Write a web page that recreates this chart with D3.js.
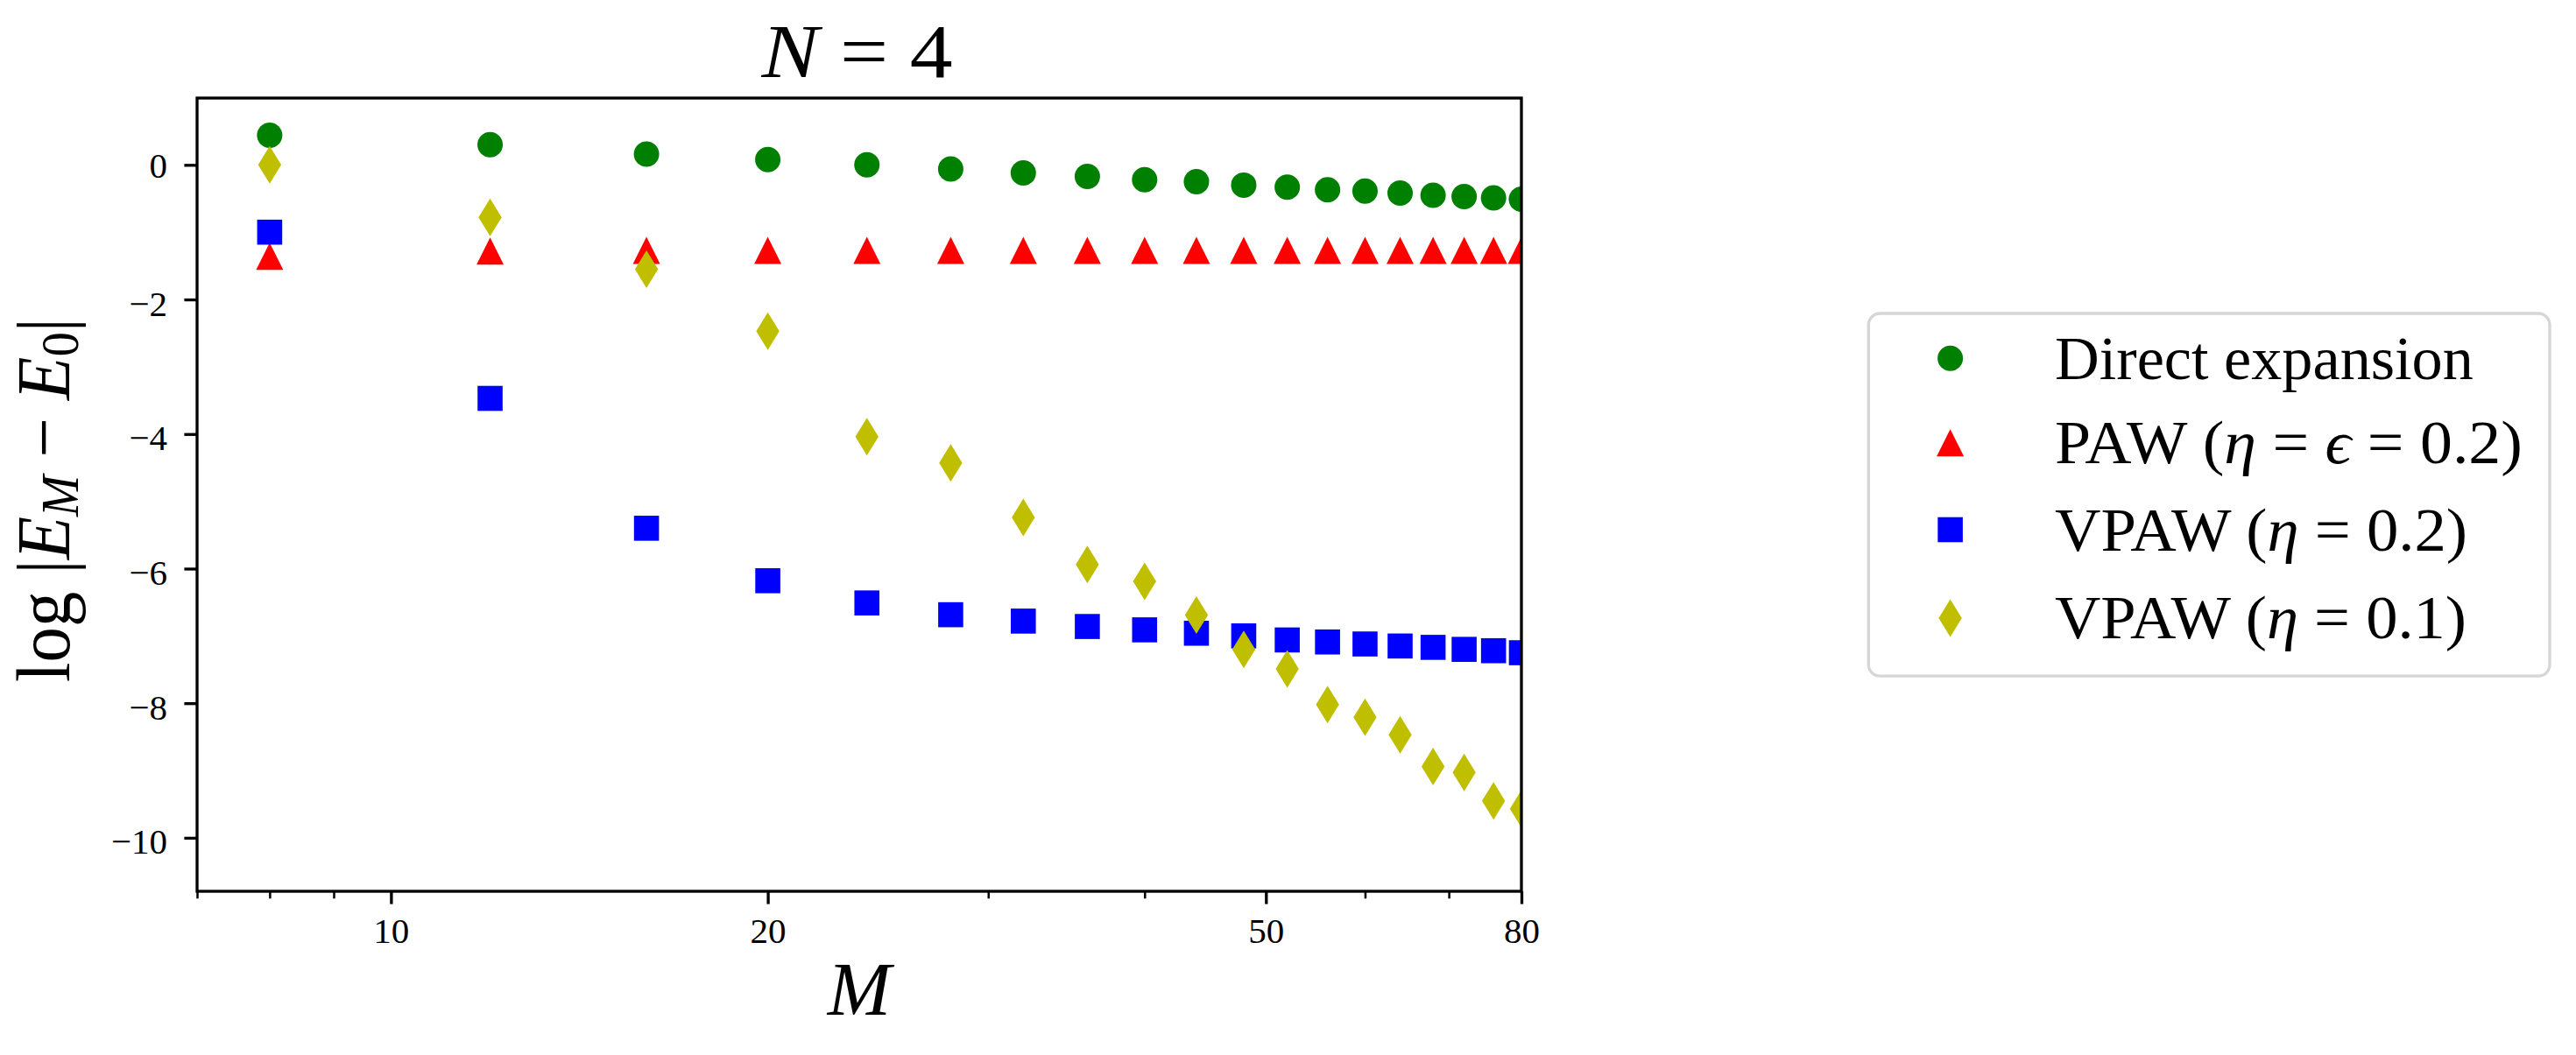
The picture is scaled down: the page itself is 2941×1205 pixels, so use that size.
<!DOCTYPE html>
<html>
<head>
<meta charset="utf-8">
<script src="https://cdn.jsdelivr.net/npm/d3@7"></script>
<style>
  html, body { margin: 0; padding: 0; background: #fff; }
  svg { display: block; }
</style>
</head>
<body>
<svg id="chart" width="2941" height="1205"></svg>
<script>
// ---------------- data ----------------
const M = [8, 12, 16, 20, 24, 28, 32, 36, 40, 44, 48, 52, 56, 60, 64, 68, 72, 76, 80];
const directExpansion = [0.44, 0.30, 0.16, 0.08, 0.00, -0.06, -0.12, -0.17, -0.22, -0.25, -0.30, -0.33, -0.37, -0.39, -0.42, -0.45, -0.47, -0.49, -0.51];
const paw02 = [-1.36, -1.28, -1.27, -1.27, -1.27, -1.27, -1.27, -1.27, -1.27, -1.27, -1.27, -1.27, -1.27, -1.27, -1.27, -1.27, -1.27, -1.27, -1.27];
const vpaw02 = [-1.00, -3.47, -5.40, -6.18, -6.51, -6.685, -6.78, -6.86, -6.91, -6.96, -7.00, -7.06, -7.09, -7.12, -7.15, -7.17, -7.20, -7.22, -7.25];
const vpaw01 = [0.00, -0.78, -1.55, -2.47, -4.04, -4.43, -5.24, -5.94, -6.19, -6.69, -7.20, -7.49, -8.02, -8.21, -8.47, -8.94, -9.03, -9.45, -9.57];
const xTicks = [10, 20, 50, 80];
const xMinorTicks = [7, 8, 9, 30, 40, 60, 70];
const yTicks = [0, -2, -4, -6, -8, -10];
const xDomain = [7, 80];
const yDomain = [-10.795, 0.993];

// ---------------- layout ----------------
const W = 2941, H = 1205;
const plot = { left: 225, right: 1737, top: 112, bottom: 1018 };
const SERIF = "'Liberation Serif','DejaVu Serif',serif";
const LW = 3.33;

const svg = d3.select("#chart");
svg.append("rect").attr("width", W).attr("height", H).attr("fill", "#fff");

const x = d3.scaleLog().domain(xDomain).range([plot.left, plot.right]);
const y = d3.scaleLinear().domain(yDomain).range([plot.bottom, plot.top]);

function markerPath(shape) {
  switch (shape) {
    case "circle": { const r = 14.5; return `M${r},0A${r},${r} 0 1 1 ${-r},0A${r},${r} 0 1 1 ${r},0Z`; }
    case "triangle": { const s = 15.5; return `M0,${-s}L${s},${s}L${-s},${s}Z`; }
    case "square": { const h = 14.3; return `M${-h},${-h}L${h},${-h}L${h},${h}L${-h},${h}Z`; }
    case "diamond": { const w = 13.2, h = 21.5; return `M0,${-h}L${w},0L0,${h}L${-w},0Z`; }
  }
}

const series = [
  { values: directExpansion, color: "#008000", shape: "circle",
    label: [{ t: "Direct expansion" }] },
  { values: paw02, color: "#ff0000", shape: "triangle",
    label: [{ t: "PAW (" }, { t: "η", i: true }, { t: " = " }, { t: "ϵ", i: true }, { t: " = 0.2)" }] },
  { values: vpaw02, color: "#0000ff", shape: "square",
    label: [{ t: "VPAW (" }, { t: "η", i: true }, { t: " = 0.2)" }] },
  { values: vpaw01, color: "#bfbf00", shape: "diamond",
    label: [{ t: "VPAW (" }, { t: "η", i: true }, { t: " = 0.1)" }] }
];

// clip
svg.append("defs").append("clipPath").attr("id", "clip")
  .append("rect").attr("x", plot.left).attr("y", plot.top)
  .attr("width", plot.right - plot.left).attr("height", plot.bottom - plot.top);

const marks = svg.append("g").attr("clip-path", "url(#clip)");
series.forEach(s => {
  marks.append("g").selectAll("path").data(M.map((m, i) => [m, s.values[i]]))
    .join("path")
    .attr("d", markerPath(s.shape))
    .attr("transform", d => `translate(${x(d[0])},${y(d[1])})`)
    .attr("fill", s.color);
});

// axes
const fmt = d => d < 0 ? "\u2212" + Math.abs(d) : String(d);

const xAxisG = svg.append("g").attr("transform", `translate(0,${plot.bottom})`)
  .call(d3.axisBottom(x).tickValues(xTicks).tickSize(14.6).tickFormat(d3.format("d")));
xAxisG.select(".domain").remove();
xAxisG.selectAll(".tick line").attr("stroke", "#000").attr("stroke-width", LW);
xAxisG.selectAll(".tick text").attr("y", 59).attr("dy", 0)
  .attr("font-family", SERIF).attr("font-size", 41).attr("fill", "#000");

const xMinorG = svg.append("g").attr("transform", `translate(0,${plot.bottom})`)
  .call(d3.axisBottom(x).tickValues(xMinorTicks).tickSize(8.3).tickFormat(""));
xMinorG.select(".domain").remove();
xMinorG.selectAll(".tick line").attr("stroke", "#000").attr("stroke-width", 2.5);

const yAxisG = svg.append("g").attr("transform", `translate(${plot.left},0)`)
  .call(d3.axisLeft(y).tickValues(yTicks).tickSize(14.6).tickFormat(fmt));
yAxisG.select(".domain").remove();
yAxisG.selectAll(".tick line").attr("stroke", "#000").attr("stroke-width", LW);
yAxisG.selectAll(".tick text").attr("x", -34).attr("dy", 0)
  .attr("y", d => d < 0 ? 18 : 14.5)
  .attr("font-family", SERIF).attr("font-size", 41).attr("fill", "#000");
svg.selectAll(".tick").attr("font-family", null).attr("font-size", null);
xAxisG.attr("font-family", SERIF); yAxisG.attr("font-family", SERIF);

// frame
svg.append("rect").attr("x", plot.left).attr("y", plot.top)
  .attr("width", plot.right - plot.left).attr("height", plot.bottom - plot.top)
  .attr("fill", "none").attr("stroke", "#000").attr("stroke-width", LW);

// helpers for text
function addRich(parent, segs, size, anchor) {
  const t = parent.append("text").attr("font-family", SERIF).attr("font-size", size)
    .attr("fill", "#000").attr("text-anchor", anchor || "start").attr("x", 0).attr("y", 0);
  segs.forEach(sg => {
    const ts = t.append("tspan").text(sg.t);
    if (sg.i) ts.attr("font-style", "italic");
    if (sg.size) ts.attr("font-size", sg.size);
    if (sg.dy) ts.attr("dy", sg.dy);
  });
  t.attr("xml:space", "preserve").style("white-space", "pre");
  return t;
}
function place(t, px, py, target, rot) {
  const w = t.node().getComputedTextLength();
  const k = target ? target / w : 1;
  t.attr("transform", `translate(${px},${py})${rot ? ` rotate(${rot})` : ""} scale(${k},1)`);
}

// title
const title = addRich(svg, [{ t: "N", i: true }, { t: " = 4" }], 87, "middle");
place(title, 978.5, 88, 218);

// x label
const xl = addRich(svg, [{ t: "M", i: true }], 87, "middle");
place(xl, 981, 1159, null);

// y label
const yl = addRich(svg, [
  { t: "log |" }, { t: "E", i: true }, { t: "M", i: true, size: 61, dy: 10 },
  { t: " \u2212 ", dy: -10 }, { t: "E", i: true }, { t: "0", size: 61, dy: 10 }, { t: "|", dy: -10 }
], 87, "middle");
place(yl, 79, 571, 416, -90);

// legend
const lg = svg.append("g");
lg.append("rect").attr("x", 2133.3).attr("y", 358).attr("width", 777.7).attr("height", 414.2)
  .attr("rx", 13).attr("ry", 13).attr("fill", "#fff").attr("stroke", "#d6d6d6").attr("stroke-width", LW);
const rowBase = [432.7, 529.2, 628.5, 729.4];
const labelWidths = [478, 534, 471, 470];
series.forEach((s, i) => {
  lg.append("path").attr("d", markerPath(s.shape))
    .attr("transform", `translate(2226.6,${rowBase[i] - 23.5})`).attr("fill", s.color);
  const t = addRich(lg, s.label, 70, "start");
  place(t, 2346, rowBase[i], labelWidths[i]);
});
</script>
</body>
</html>
